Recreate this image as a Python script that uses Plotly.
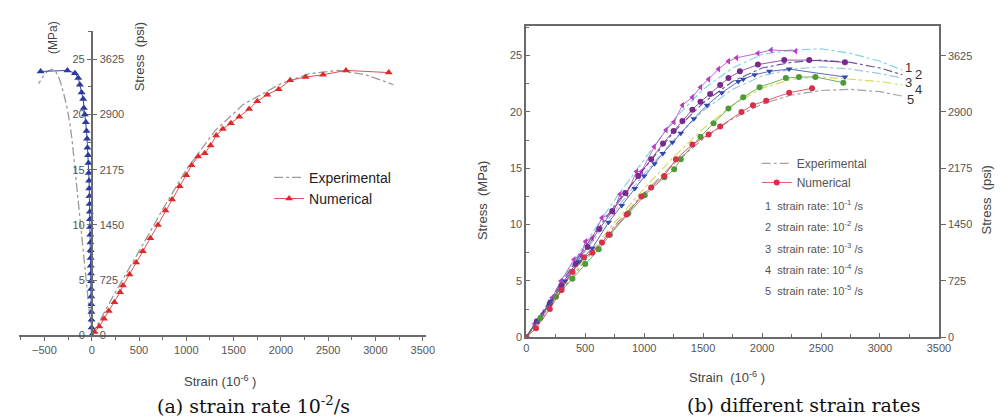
import plotly.graph_objects as go

W, H = 1005, 418
PSI = 145.04

# ---------------- Panel (a) data ----------------
a_exp_ax_x = [0, 250, 500, 750, 1000, 1300, 1600, 2000, 2300, 2600, 2900, 3190]
a_exp_ax_y = [0, 3.9, 7.6, 11.4, 15.0, 18.5, 20.9, 22.8, 23.7, 24.0, 23.6, 22.7]
a_exp_lat_x = [0, -30, -60, -90, -115, -145, -177, -205, -229, -265, -302, -340, -380, -420, -470, -520, -560]
a_exp_lat_y = [0, 2.6, 5.2, 7.8, 10.0, 12.6, 15.5, 17.5, 19.1, 20.8, 22.1, 23.2, 23.9, 24.1, 23.9, 23.4, 22.8]
a_num_ax_x = [30, 80, 130, 180, 240, 300, 330, 400, 470, 540, 620, 700, 780, 850, 930, 1000, 1056, 1125,
              1195, 1257, 1316, 1386, 1472, 1560, 1664, 1750, 1855, 1976, 2098, 2261, 2445, 2688, 3140]
a_num_ax_y = [0.3, 0.8, 1.5, 2.2, 3.0, 3.9, 4.5, 5.5, 6.6, 7.6, 8.8, 10.0, 11.3, 12.3, 13.5, 14.5, 15.4, 16.2,
              16.5, 17.2, 18.1, 18.7, 19.2, 19.8, 20.5, 21.2, 21.8, 22.3, 23.1, 23.4, 23.6, 24.0, 23.8]
a_num_lat_y = [0, 0.7, 1.4, 2.1, 2.8, 3.5, 4.2, 4.9, 5.6, 6.3, 7.0, 7.7, 8.4, 9.1, 9.8, 10.5, 11.2, 11.9, 12.6,
               13.3, 14.0, 14.7, 15.6, 16.3, 17.0, 17.8, 18.5, 19.3, 20.0, 20.6, 21.4, 22.0, 22.7, 23.3, 23.75, 24.0, 23.9]
a_num_lat_x = [0, -1, -2, -3, -4, -5, -6, -7, -8, -10, -11, -12, -14, -15, -17, -18, -20, -22, -24,
               -26, -28, -31, -34, -38, -45, -49, -55, -62, -73, -83, -90, -107, -125, -142, -177, -257, -540]

# ---------------- Panel (b) data ----------------
b_exp_x = [0, 250, 500, 750, 1000, 1250, 1500, 1750, 2000, 2250, 2500, 2750, 3000, 3190]
b_exp1_y = [0, 4.2, 8.3, 12.2, 15.8, 19.3, 22.0, 23.9, 25.1, 25.5, 25.6, 25.2, 24.5, 23.7]
b_exp2_y = [0, 4.0, 8.0, 11.7, 15.0, 18.2, 20.8, 22.7, 23.9, 24.4, 24.6, 24.4, 23.9, 23.3]
b_exp3_y = [0, 3.8, 7.6, 11.2, 14.5, 17.5, 20.1, 22.0, 23.2, 23.8, 24.0, 23.8, 23.4, 23.0]
b_exp4_y = [0, 3.6, 7.0, 10.2, 13.2, 16.0, 18.5, 20.6, 22.1, 22.9, 23.1, 22.9, 22.7, 22.4]
b_exp5_y = [0, 3.4, 6.8, 9.9, 12.8, 15.4, 17.6, 19.4, 20.7, 21.5, 21.9, 22.0, 21.8, 21.4]

b_num1_x = [0, 72, 142, 220, 295, 406, 462, 504, 560, 643, 740, 796, 852, 935, 977, 1086, 1186, 1253,
            1325, 1409, 1478, 1547, 1631, 1715, 1784, 1965, 2077, 2285]
b_num1_y = [0, 1.2, 2.1, 3.5, 5.0, 6.9, 7.3, 8.5, 8.8, 10.6, 11.1, 12.7, 12.7, 14.7, 14.7, 16.9, 18.4, 19.1,
            20.6, 21.3, 22.2, 22.9, 23.8, 24.5, 24.8, 25.2, 25.5, 25.4]
b_num2_x = [0, 90, 200, 300, 420, 520, 620, 730, 840, 950, 1060, 1160, 1250, 1325, 1409, 1478, 1560,
            1645, 1715, 1812, 1965, 2188, 2400, 2703]
b_num2_y = [0, 1.4, 3.0, 4.6, 6.5, 8.0, 9.6, 11.2, 12.8, 14.3, 15.8, 17.2, 18.3, 19.2, 20.2, 20.9, 21.6,
            22.4, 23.0, 23.6, 24.2, 24.6, 24.6, 24.4]
b_num3_x = [0, 100, 210, 330, 450, 560, 699, 810, 921, 1000, 1088, 1158, 1240, 1311, 1422, 1534, 1659,
            1798, 1840, 1937, 2063, 2230, 2703]
b_num3_y = [0, 1.5, 3.2, 5.0, 6.7, 7.9, 10.2, 11.7, 13.2, 14.3, 15.4, 16.3, 17.3, 18.1, 19.4, 20.6, 21.7,
            22.7, 22.9, 23.3, 23.6, 23.8, 23.1]
b_num4_x = [0, 120, 253, 392, 501, 615, 710, 866, 1005, 1172, 1255, 1311, 1478, 1589, 1715, 1840, 1979,
            2202, 2313, 2452, 2689]
b_num4_y = [0, 1.7, 3.6, 5.2, 6.5, 7.8, 9.1, 11.0, 12.6, 14.2, 14.9, 15.8, 17.8, 19.0, 20.3, 21.3, 22.2,
            23.0, 23.1, 23.1, 22.6]
b_num5_x = [0, 83, 200, 300, 392, 490, 560, 643, 699, 852, 977, 1060, 1170, 1270, 1409, 1547, 1645,
            1826, 1923, 2035, 2230, 2424]
b_num5_y = [0, 0.8, 2.5, 4.2, 5.8, 7.1, 7.5, 8.4, 9.1, 10.9, 12.5, 13.3, 14.3, 15.8, 17.1, 18.0, 18.7,
            20.0, 20.6, 21.0, 21.7, 22.1]

curve_labels = ["1", "2", "3", "4", "5"]
rate_labels = ["1  strain rate: 10<sup>-1</sup> /s", "2  strain rate: 10<sup>-2</sup> /s",
               "3  strain rate: 10<sup>-3</sup> /s", "4  strain rate: 10<sup>-4</sup> /s",
               "5  strain rate: 10<sup>-5</sup> /s"]
mpa_ticks = [0, 5, 10, 15, 20, 25]
psi_ticks = [0, 725, 1450, 2175, 2900, 3625]
strain_ticks = [-500, 0, 500, 1000, 1500, 2000, 2500, 3000, 3500]
strain_ticks_b = [0, 500, 1000, 1500, 2000, 2500, 3000, 3500]

# ---------------- geometry ----------------
def px(v):
    return v / W

def py(v):
    return 1 - v / H

AX = dict(family="Liberation Sans, Arial", size=11, color="#555")
LINEC = "#6a6a6a"

fig = go.Figure()

# Panel (a) traces
fig.add_trace(go.Scatter(x=a_exp_ax_x, y=a_exp_ax_y, mode="lines", name="Experimental",
                         line=dict(color="#9a9a9a", width=1.3, dash="dashdot"),
                         xaxis="x", yaxis="y", legend="legend"))
fig.add_trace(go.Scatter(x=a_exp_lat_x, y=a_exp_lat_y, mode="lines", showlegend=False,
                         line=dict(color="#9a9a9a", width=1.3, dash="dashdot"),
                         xaxis="x", yaxis="y"))
fig.add_trace(go.Scatter(x=a_num_ax_x, y=a_num_ax_y, mode="lines+markers", name="Numerical",
                         line=dict(color="#e05050", width=1),
                         marker=dict(symbol="triangle-up", size=7, color="#e02a2a"),
                         xaxis="x", yaxis="y", legend="legend"))
fig.add_trace(go.Scatter(x=a_num_lat_x, y=a_num_lat_y, mode="lines+markers", showlegend=False,
                         line=dict(color="#3a48a8", width=1),
                         marker=dict(symbol="triangle-up", size=7, color="#2a3a9e"),
                         xaxis="x", yaxis="y"))
# same axial series expressed in psi, drawn invisibly so the psi axis is rendered
fig.add_trace(go.Scatter(x=a_exp_ax_x, y=[v * PSI for v in a_exp_ax_y], mode="lines", showlegend=False,
                         line=dict(color="rgba(0,0,0,0)", width=0), hoverinfo="skip",
                         xaxis="x", yaxis="y2"))

# Panel (b) traces
exp_sets = [b_exp1_y, b_exp2_y, b_exp3_y, b_exp4_y, b_exp5_y]
exp_cols = ["#7fd6e2", "#6a5a9a", "#9fc8e0", "#d6de5a", "#a8a0a6"]
num_sets = [(b_num1_x, b_num1_y), (b_num2_x, b_num2_y), (b_num3_x, b_num3_y),
            (b_num4_x, b_num4_y), (b_num5_x, b_num5_y)]
num_cols = ["#b83cc4", "#7a2a8c", "#3048b0", "#4e9a3a", "#d8304a"]
num_syms = ["triangle-left", "circle", "triangle-down", "circle", "circle"]

for i in range(5):
    last = i == 4
    fig.add_trace(go.Scatter(x=b_exp_x, y=exp_sets[i], mode="lines",
                             name="Experimental", showlegend=last, legend="legend2",
                             line=dict(color=exp_cols[i], width=1.2, dash="dashdot"),
                             xaxis="x2", yaxis="y3"))
for i in range(5):
    last = i == 4
    fig.add_trace(go.Scatter(x=num_sets[i][0], y=num_sets[i][1], mode="lines+markers",
                             name="Numerical", showlegend=last, legend="legend2",
                             line=dict(color=num_cols[i], width=0.8),
                             marker=dict(symbol=num_syms[i], size=6, color=num_cols[i]),
                             xaxis="x2", yaxis="y3"))
fig.add_trace(go.Scatter(x=b_exp_x, y=[v * PSI for v in b_exp5_y], mode="lines", showlegend=False,
                         line=dict(color="rgba(0,0,0,0)", width=0), hoverinfo="skip",
                         xaxis="x2", yaxis="y4"))

# ---------------- axes ----------------
a_xmin, a_xmax = -770, 3530
a_x0, a_x1 = 8, 420.9
a_ymax = 27.6
a_ytop, a_ybot = 23, 332
a_origin_px = a_x0 + (0 - a_xmin) / (a_xmax - a_xmin) * (a_x1 - a_x0)

b_ymax = 27.65

common = dict(showgrid=False, zeroline=False, showline=True, linecolor=LINEC, linewidth=1.5,
              tickcolor=LINEC, tickfont=AX)

fig.update_layout(
    width=W, height=H, margin=dict(l=0, r=0, t=0, b=0),
    paper_bgcolor="white", plot_bgcolor="rgba(0,0,0,0)",
    xaxis=dict(domain=[px(a_x0), px(a_x1)], range=[a_xmin, a_xmax], anchor="y",
               tickvals=strain_ticks, ticks="outside", ticklen=4,
               minor=dict(dtick=250, tick0=0, ticks="outside", ticklen=3, tickcolor=LINEC), **common),
    yaxis=dict(domain=[py(a_ybot), py(a_ytop)], range=[0, a_ymax], anchor="free",
               position=px(a_origin_px), side="left", tickvals=mpa_ticks, ticks="outside", ticklen=4,
               minor=dict(dtick=2.5, tick0=0, ticks="outside", ticklen=3, tickcolor=LINEC), **common),
    yaxis2=dict(overlaying="y", range=[0, a_ymax * PSI], anchor="free", position=px(a_origin_px),
                side="right", tickvals=psi_ticks, ticks="outside", ticklen=5, **common),
    xaxis2=dict(domain=[px(523), px(942)], range=[0, 3500], anchor="y3", mirror=True,
                tickvals=strain_ticks_b, ticks="inside", ticklen=4,
                minor=dict(dtick=250, tick0=0, ticks="inside", ticklen=3, tickcolor=LINEC), **common),
    yaxis3=dict(domain=[py(334), py(18)], range=[0, b_ymax], anchor="x2", mirror=True,
                tickvals=mpa_ticks, ticks="inside", ticklen=4,
                minor=dict(dtick=2.5, tick0=0, ticks="inside", ticklen=3, tickcolor=LINEC), **common),
    yaxis4=dict(overlaying="y3", range=[0, b_ymax * PSI], anchor="x2", side="right",
                tickvals=psi_ticks, ticks="outside", ticklen=5, **common),
    legend=dict(x=px(262), y=py(156), xanchor="left", yanchor="top", bgcolor="rgba(0,0,0,0)",
                font=dict(family="Liberation Sans, Arial", size=14, color="#222"),
                tracegroupgap=0, itemwidth=30),
    legend2=dict(x=px(757), y=py(143), xanchor="left", yanchor="top", bgcolor="rgba(0,0,0,0)",
                 font=dict(family="Liberation Sans, Arial", size=12, color="#555"),
                 tracegroupgap=0, itemwidth=30),
)

ann = []
def text(x, y, s, size=13, angle=0, color="#444", fam="Liberation Sans, Arial", xanchor="center"):
    ann.append(dict(x=px(x), y=py(y), xref="paper", yref="paper", text=s, showarrow=False,
                    textangle=angle, xanchor=xanchor, yanchor="middle",
                    font=dict(family=fam, size=size, color=color)))

text(42, 30, "(MPa)", 12, -90)
text(130, 50, "Stress  (psi)", 13, -90)
text(212, 378, "Strain (10<sup>-6</sup> )", 13)
text(727, 374, "Strain  (10<sup>-6</sup> )", 13)
text(478, 195, "Stress  (MPa)", 13, -90)
text(990, 195, "Stress  (psi)", 13, -90)
text(246, 403, "(a) strain rate 10<sup>-2</sup>/s", 19, 0, "#111", "DejaVu Serif, Liberation Serif")
text(805, 403, "(b) different strain rates", 19, 0, "#111", "DejaVu Serif, Liberation Serif")

for k, s in enumerate(rate_labels):
    text(763, 200 + 21.5 * k, s, 11, 0, "#555", xanchor="left")

# curve end labels, placed next to each experimental curve's end
offs = [(55, 0.2), (140, 0.0), (55, -0.4), (140, -0.4), (70, -0.3)]
for i in range(5):
    ann.append(dict(x=b_exp_x[-1] + offs[i][0], y=exp_sets[i][-1] + offs[i][1], xref="x2", yref="y3",
                    text=curve_labels[i], showarrow=False,
                    font=dict(family="Liberation Sans, Arial", size=13, color="#333")))

fig.update_layout(annotations=ann)
fig.write_html("out.html")
